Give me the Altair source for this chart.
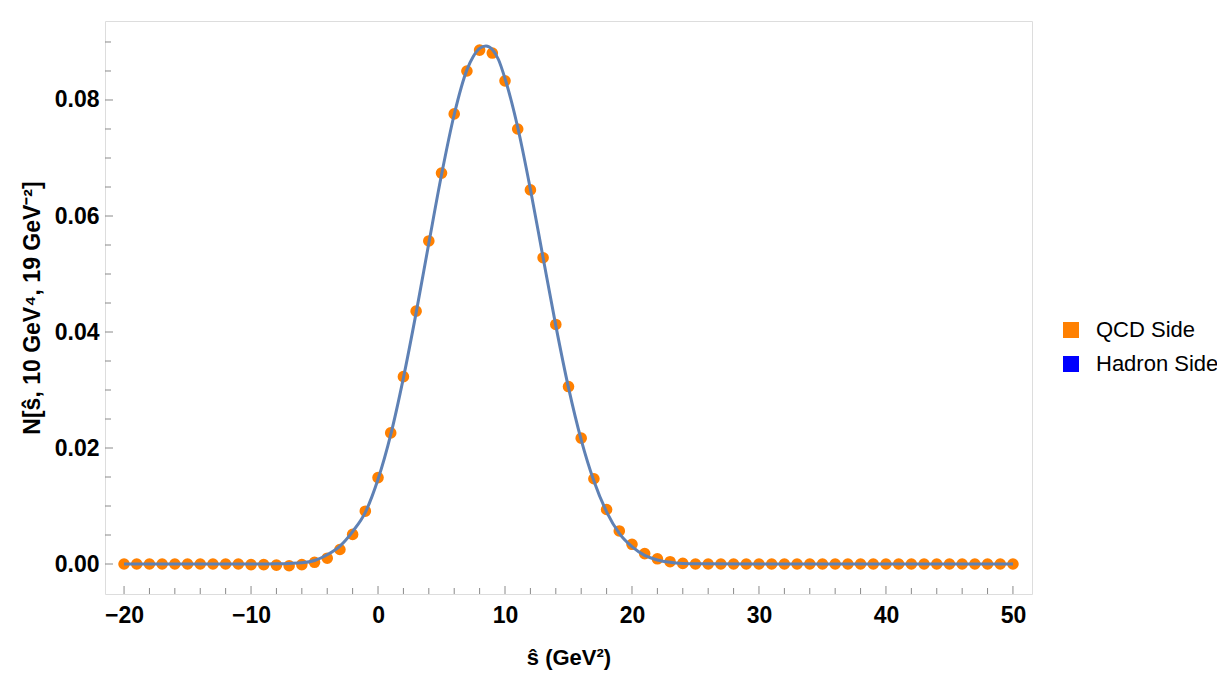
import altair as alt
import pandas as pd

# QCD side points (orange)
qcd_s = list(range(-20, 51))
qcd_n = [0.0, 0.0, 0.0, 0.0, 0.0, 0.0, 0.0, 0.0, 0.0, 0.0,
         -0.0001, -0.0001, -0.0002, -0.0003, -0.0001, 0.0003, 0.0010, 0.0025, 0.0051, 0.0091,
         0.0149, 0.0226, 0.0323, 0.0436, 0.0557, 0.0674, 0.0776, 0.0850, 0.0886, 0.0881,
         0.0833, 0.0750, 0.0645, 0.0528, 0.0413, 0.0306, 0.0217, 0.0147, 0.0094, 0.0057,
         0.0034, 0.0018, 0.0009, 0.0004, 0.0001] + [0.0] * 26

# Hadron side curve
had_s = [-20, -15, -10, -9, -8, -7, -6, -5, -4, -3, -2, -1, 0, 1, 2, 3, 4, 5, 6, 7,
         7.5, 8, 8.5, 9, 9.5, 10, 11, 12, 13, 14, 15, 16, 17, 18, 19, 20, 21, 22, 23, 24,
         25, 30, 40, 50]
had_n = [0.0, 0.0, 0.0, 0.00001, 0.00003, 0.0001, 0.0002, 0.0006, 0.0016, 0.0031,
         0.0056, 0.0089, 0.0146, 0.0223, 0.0321, 0.0433, 0.0553, 0.0671, 0.0775, 0.0852,
         0.0875, 0.0889, 0.0893, 0.0887, 0.0869, 0.0837, 0.0753, 0.0646, 0.0528, 0.0411,
         0.0304, 0.0214, 0.0143, 0.0090, 0.0053, 0.0030, 0.0015, 0.0007, 0.0003, 0.0001,
         0.00003, 0.0, 0.0, 0.0]

series_names = ["QCD Side", "Hadron Side"]
series_colors = ["#FF8000", "#0000FF"]

x_labels = [-20, -10, 0, 10, 20, 30, 40, 50]
x_minor = [v for v in range(-18, 50, 2) if v % 10 != 0]
y_labels = [0.0, 0.02, 0.04, 0.06, 0.08]
y_minor = [0.005, 0.01, 0.015, 0.025, 0.03, 0.035, 0.045, 0.05, 0.055,
           0.065, 0.07, 0.075, 0.085, 0.09]

W, H = 927, 573
FONT = "Liberation Sans"
FRAME = "#8a8a8a"

pts = pd.DataFrame({"s": qcd_s, "n": qcd_n, "series": "QCD Side"})
crv = pd.DataFrame({"s": had_s, "n": had_n})

xscale = alt.Scale(domain=[-21.5, 51.5], nice=False, zero=False)
yscale = alt.Scale(domain=[-0.00517, 0.09362], nice=False, zero=False)

xaxis = alt.Axis(
    values=x_labels, format="d", ticks=False, domain=False, grid=False,
    labelFontSize=23, labelFontWeight="bold", labelFont=FONT, labelColor="black",
    labelPadding=10, labelFlush=False, labelOverlap=False,
    title="ŝ (GeV²)", titleFontSize=22, titleFont=FONT, titleFontWeight="bold",
    titleColor="black", titlePadding=20)
yaxis = alt.Axis(
    values=y_labels, format=".2f", ticks=False, domain=False, grid=False,
    labelFontSize=23, labelFontWeight="bold", labelFont=FONT, labelColor="black",
    labelPadding=6, labelFlush=False, labelOverlap=False,
    title="N[ŝ, 10 GeV⁴, 19 GeV⁻²]", titleFontSize=23, titleFont=FONT,
    titleFontWeight="bold", titleColor="black", titlePadding=10)

points = alt.Chart(pts).mark_circle(size=135, opacity=1).encode(
    x=alt.X("s:Q", scale=xscale, axis=xaxis),
    y=alt.Y("n:Q", scale=yscale, axis=yaxis),
    color=alt.Color("series:N", scale=alt.Scale(domain=series_names, range=series_colors),
                    legend=alt.Legend(orient="none", legendX=955, legendY=298, title=None,
                                      symbolType="square", symbolSize=256,
                                      symbolStrokeWidth=0, symbolOpacity=1,
                                      labelFont=FONT, labelFontSize=22, labelColor="black",
                                      labelOffset=14, rowPadding=12)),
)

curve = alt.Chart(crv).mark_line(color="#5E81B5", strokeWidth=3,
                                 interpolate="monotone").encode(
    x=alt.X("s:Q", scale=xscale, axis=xaxis),
    y=alt.Y("n:Q", scale=yscale, axis=yaxis),
)

ytm = alt.Chart(pd.DataFrame({"n": y_labels})).mark_rule(color=FRAME, strokeWidth=1).encode(
    y=alt.Y("n:Q", scale=yscale, axis=yaxis), x=alt.value(0), x2=alt.value(8))
ytn = alt.Chart(pd.DataFrame({"n": y_minor})).mark_rule(color=FRAME, strokeWidth=1).encode(
    y=alt.Y("n:Q", scale=yscale, axis=yaxis), x=alt.value(0), x2=alt.value(6))
xtm = alt.Chart(pd.DataFrame({"s": x_labels})).mark_rule(color=FRAME, strokeWidth=1).encode(
    x=alt.X("s:Q", scale=xscale, axis=xaxis), y=alt.value(H), y2=alt.value(H - 8))
xtn = alt.Chart(pd.DataFrame({"s": x_minor})).mark_rule(color=FRAME, strokeWidth=1).encode(
    x=alt.X("s:Q", scale=xscale, axis=xaxis), y=alt.value(H), y2=alt.value(H - 6))

chart = alt.layer(points, curve, ytm, ytn, xtm, xtn).properties(
    width=W, height=H,
    autosize=alt.AutoSizeParams(type="none"),
    padding={"left": 97, "top": 13, "right": 185, "bottom": 86},
).configure_view(stroke=FRAME, strokeWidth=1.2).configure(background="white")

chart.save("out.html", embed_options={"renderer": "svg", "actions": False})
